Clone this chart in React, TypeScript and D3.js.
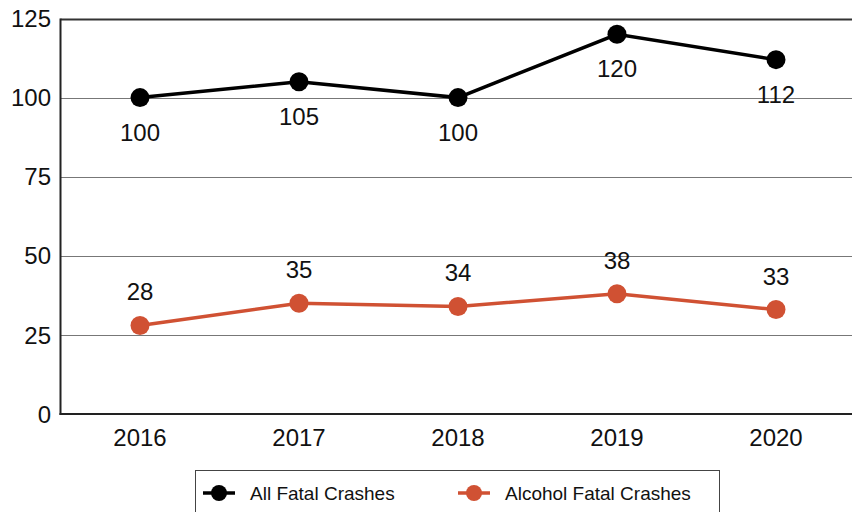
import React, { useRef, useEffect } from 'react';
import * as d3 from 'd3';

const years = ['2016', '2017', '2018', '2019', '2020'];
const allFatal = [100, 105, 100, 120, 112];
const alcoholFatal = [28, 35, 34, 38, 33];
const yTicks = [0, 25, 50, 75, 100, 125];
const seriesNames = ['All Fatal Crashes', 'Alcohol Fatal Crashes'];

const BLACK = '#000000';
const ORANGE = '#d05133';
const FONT = 'Arial, "Liberation Sans", sans-serif';

const App = () => {
  const svgRef = useRef<SVGSVGElement>(null);

  useEffect(() => {
    const width = 852;
    const height = 512;
    const left = 60.5;
    const right = 855.5;
    const top = 18.5;
    const bottom = 414;

    const svg = d3.select(svgRef.current);
    svg.selectAll('*').remove();

    const x = d3.scaleBand().domain(years).range([left, right]);
    const y = d3.scaleLinear().domain([0, 125]).range([bottom, top]);

    // gridlines
    svg
      .append('g')
      .selectAll('line')
      .data(yTicks.filter((t) => t > 0))
      .join('line')
      .attr('x1', left)
      .attr('x2', width)
      .attr('y1', (d) => Math.round(y(d)) + 0.5)
      .attr('y2', (d) => Math.round(y(d)) + 0.5)
      .attr('stroke', (d) => (d === 125 ? '#333' : '#777'))
      .attr('stroke-width', (d) => (d === 125 ? 2 : 1));

    // axes
    svg
      .append('line')
      .attr('x1', left)
      .attr('x2', left)
      .attr('y1', y(125))
      .attr('y2', bottom + 1)
      .attr('stroke', '#222')
      .attr('stroke-width', 2);
    svg
      .append('line')
      .attr('x1', left - 1)
      .attr('x2', width)
      .attr('y1', bottom)
      .attr('y2', bottom)
      .attr('stroke', '#222')
      .attr('stroke-width', 2);

    // y tick labels
    svg
      .append('g')
      .selectAll('text')
      .data(yTicks)
      .join('text')
      .attr('x', 51)
      .attr('y', (d) => y(d))
      .attr('dy', '0.36em')
      .attr('text-anchor', 'end')
      .attr('font-family', FONT)
      .attr('font-size', 24)
      .attr('fill', '#111')
      .text((d) => d);

    // x tick labels
    svg
      .append('g')
      .selectAll('text')
      .data(years)
      .join('text')
      .attr('x', (d) => (x(d) as number) + x.bandwidth() / 2)
      .attr('y', 446)
      .attr('text-anchor', 'middle')
      .attr('font-family', FONT)
      .attr('font-size', 24)
      .attr('fill', '#111')
      .text((d) => d);

    const cx = (i: number) => (x(years[i]) as number) + x.bandwidth() / 2;

    const drawSeries = (values: number[], color: string, labelDy: number) => {
      const line = d3
        .line<number>()
        .x((_, i) => cx(i))
        .y((d) => y(d));
      svg
        .append('path')
        .datum(values)
        .attr('fill', 'none')
        .attr('stroke', color)
        .attr('stroke-width', 3.5)
        .attr('d', line);
      svg
        .append('g')
        .selectAll('circle')
        .data(values)
        .join('circle')
        .attr('cx', (_, i) => cx(i))
        .attr('cy', (d) => y(d))
        .attr('r', 9.5)
        .attr('fill', color);
      svg
        .append('g')
        .selectAll('text')
        .data(values)
        .join('text')
        .attr('x', (_, i) => cx(i))
        .attr('y', (d) => y(d) + labelDy)
        .attr('text-anchor', 'middle')
        .attr('font-family', FONT)
        .attr('font-size', 24)
        .attr('fill', '#111')
        .text((d) => d);
    };

    drawSeries(allFatal, BLACK, 43);
    drawSeries(alcoholFatal, ORANGE, -25);

    // legend
    const legend = svg.append('g');
    legend
      .append('rect')
      .attr('x', 195.5)
      .attr('y', 470.5)
      .attr('width', 524)
      .attr('height', 60)
      .attr('fill', 'white')
      .attr('stroke', '#444')
      .attr('stroke-width', 1);

    const legendItems = [
      { name: seriesNames[0], color: BLACK, x0: 203 },
      { name: seriesNames[1], color: ORANGE, x0: 458 },
    ];
    legendItems.forEach((item) => {
      const g = legend.append('g');
      g.append('line')
        .attr('x1', item.x0)
        .attr('x2', item.x0 + 32)
        .attr('y1', 493)
        .attr('y2', 493)
        .attr('stroke', item.color)
        .attr('stroke-width', 3.5);
      g.append('circle')
        .attr('cx', item.x0 + 16)
        .attr('cy', 493)
        .attr('r', 8)
        .attr('fill', item.color);
      g.append('text')
        .attr('x', item.x0 + 47)
        .attr('y', 493)
        .attr('dy', '0.36em')
        .attr('font-family', FONT)
        .attr('font-size', 19)
        .attr('fill', '#111')
        .text(item.name);
    });

    svg.attr('viewBox', `0 0 ${width} ${height}`);
  }, []);

  return (
    <svg
      ref={svgRef}
      width={852}
      height={512}
      style={{ position: 'fixed', top: 0, left: 0, background: 'white' }}
    />
  );
};

export default App;
